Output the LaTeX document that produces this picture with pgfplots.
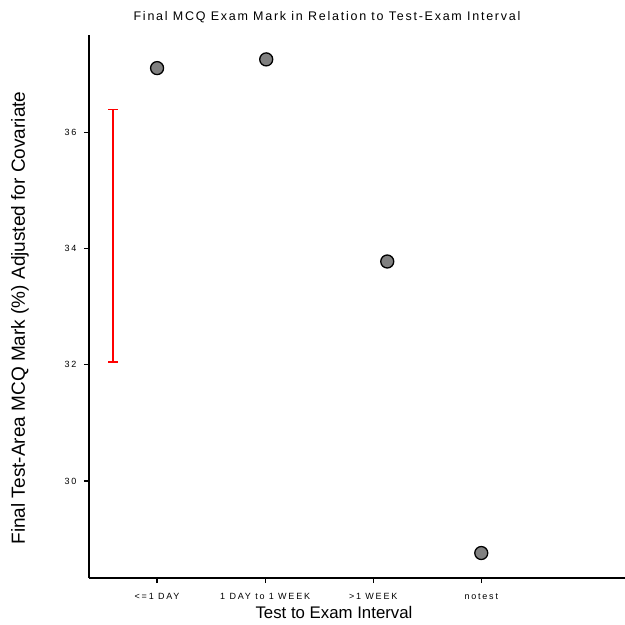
\documentclass[border=0pt]{standalone}
\usepackage{pgfplots}
\pgfplotsset{compat=1.18}
\usepackage{fontspec}
\setmainfont{Liberation Sans}
\begin{document}
\begin{tikzpicture}[x=1pt,y=1pt]
\useasboundingbox (0,0) rectangle (625,625);
\begin{axis}[
    at={(89pt,47pt)}, anchor=south west,
    scale only axis,
    width=536pt, height=543pt,
    xmin=-0.63, xmax=4.33,
    ymin=28.33, ymax=37.68,
    axis x line=bottom, axis y line=left,
    axis line style={line width=1.3pt, -},
    xtick={0,1,2,3},
    xticklabels={<=1 DAY, 1 DAY to 1 WEEK, >1 WEEK, notest},
    ytick={30,32,34,36},
    tick style={black, line width=1.2pt},
    tick align=outside,
    major tick length=5pt,
    x tick label style={font=\fontsize{9}{10}\selectfont\addfontfeature{LetterSpace=20}, yshift=-7pt},
    y tick label style={font=\fontsize{9}{10}\selectfont\addfontfeature{LetterSpace=20}, xshift=-4pt},
    /pgf/number format/assume math mode=true,
    clip=false,
]
% confidence interval (red)
\addplot[red, line width=1.5pt, mark=-, mark size=5pt, mark options={solid, line width=1.5pt}]
  coordinates {(-0.41,32.05) (-0.41,36.40)};
% adjusted means
\addplot[only marks, mark=*, mark size=6.5pt,
  mark options={fill=black!50, draw=black, line width=1.3pt}]
  coordinates {
    (0,37.11)
    (1.01,37.26)
    (2.13,33.78)
    (3,28.76)
  };
\end{axis}
\node at (327pt,608pt) {\fontsize{12.5}{14}\selectfont\addfontfeature{LetterSpace=14}Final MCQ Exam Mark in Relation to Test-Exam Interval};
\node at (334pt,13pt) {\fontsize{16.8}{19}\selectfont Test to Exam Interval};
\node[rotate=90] at (20pt,307pt) {\fontsize{19}{21}\selectfont Final Test-Area MCQ Mark (\%) Adjusted for Covariate};
\end{tikzpicture}
\end{document}
